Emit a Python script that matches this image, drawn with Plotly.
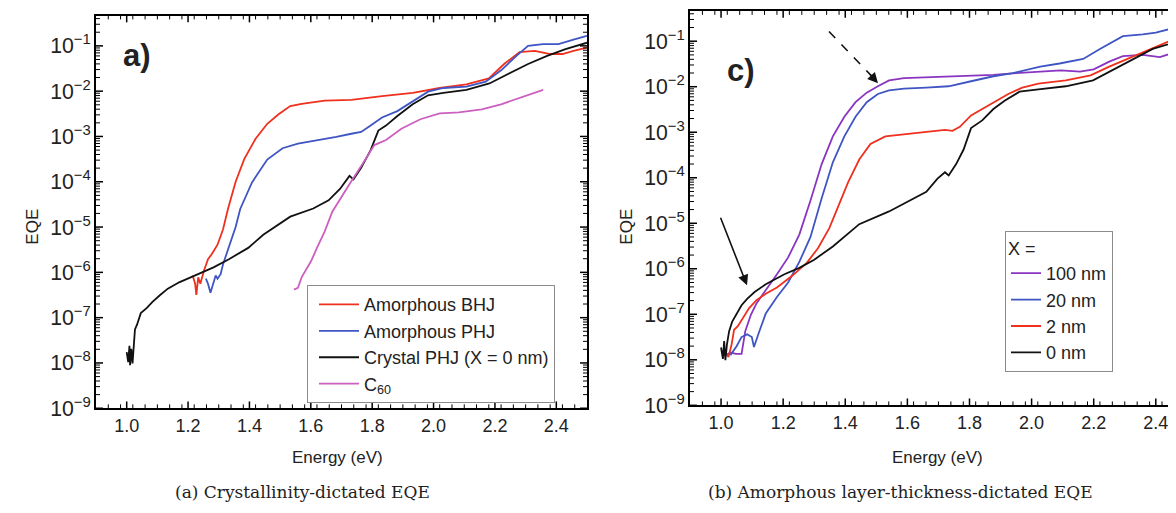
import math
import plotly.graph_objects as go

# ---------------- data (y stored as log10(EQE)) ----------------
# Panel (a)
bhj_x = [1.215, 1.223, 1.227, 1.233, 1.24, 1.252, 1.265, 1.277, 1.296, 1.314, 1.33, 1.355, 1.383, 1.42,
         1.458, 1.495, 1.533, 1.57, 1.645, 1.732, 1.832, 1.932, 2.02, 2.107, 2.18, 2.23, 2.28, 2.33,
         2.38, 2.42, 2.456, 2.5]
bhj_log = [-6.07, -6.25, -6.50, -6.11, -6.25, -5.96, -5.71, -5.6, -5.39, -5.05, -4.6, -4.0, -3.5, -3.05,
           -2.72, -2.51, -2.33, -2.28, -2.21, -2.19, -2.11, -2.04, -1.93, -1.85, -1.72, -1.40, -1.14, -1.11,
           -1.18, -1.18, -1.11, -1.04]

aphj_x = [1.258, 1.265, 1.273, 1.283, 1.29, 1.296, 1.306, 1.314, 1.327, 1.34, 1.355, 1.37, 1.408, 1.458,
          1.508, 1.558, 1.633, 1.683, 1.732, 1.764, 1.795, 1.832, 1.882, 1.932, 1.982, 2.032, 2.107, 2.17,
          2.22, 2.27, 2.308, 2.357, 2.407, 2.456, 2.5]
aphj_log = [-6.14, -6.25, -6.45, -6.25, -6.07, -6.14, -6.04, -5.82, -5.57, -5.32, -5.0, -4.6, -4.02, -3.51,
            -3.26, -3.16, -3.08, -3.01, -2.94, -2.90, -2.76, -2.58, -2.44, -2.22, -2.01, -1.93, -1.90, -1.79,
            -1.54, -1.22, -1.0, -0.96, -0.96, -0.86, -0.78]

cphj_x = [1.0, 1.005, 1.009, 1.011, 1.015, 1.019, 1.024, 1.027, 1.034, 1.046, 1.065, 1.084, 1.109, 1.134,
          1.171, 1.221, 1.283, 1.333, 1.396, 1.445, 1.533, 1.608, 1.658, 1.695, 1.72, 1.726, 1.739, 1.764,
          1.795, 1.82, 1.845, 1.882, 1.932, 1.982, 2.032, 2.107, 2.182, 2.245, 2.308, 2.37, 2.43, 2.5]
cphj_log = [-7.76, -7.98, -7.62, -8.05, -7.69, -8.01, -7.54, -7.26, -7.15, -6.9, -6.79, -6.65, -6.5, -6.36,
            -6.22, -6.07, -5.89, -5.71, -5.46, -5.17, -4.77, -4.59, -4.41, -4.16, -3.91, -3.87, -3.95, -3.69,
            -3.30, -2.87, -2.76, -2.55, -2.29, -2.09, -2.04, -1.97, -1.83, -1.61, -1.40, -1.22, -1.07, -0.93]

c60_x = [1.545, 1.558, 1.57, 1.583, 1.601, 1.62, 1.645, 1.67, 1.708, 1.732, 1.77, 1.807, 1.845, 1.895,
         1.957, 2.02, 2.082, 2.157, 2.22, 2.28, 2.33, 2.357]
c60_log = [-6.38, -6.34, -6.11, -5.96, -5.75, -5.46, -5.1, -4.66, -4.23, -3.99, -3.59, -3.19, -3.08, -2.83,
           -2.62, -2.49, -2.47, -2.40, -2.29, -2.15, -2.04, -1.97]

# Panel (b)
x100_x = [1.012, 1.03, 1.048, 1.066, 1.078, 1.096, 1.114, 1.144, 1.18, 1.216, 1.252, 1.288, 1.324, 1.36,
          1.397, 1.433, 1.469, 1.505, 1.541, 1.589, 1.661, 1.781, 1.877, 1.95, 2.028, 2.094, 2.156, 2.2,
          2.25, 2.294, 2.358, 2.413, 2.464]
x100_log = [-7.91, -7.84, -7.87, -7.87, -7.37, -7.01, -6.76, -6.48, -6.12, -5.75, -5.25, -4.5, -3.7, -3.09,
            -2.66, -2.34, -2.13, -1.99, -1.86, -1.81, -1.79, -1.77, -1.74, -1.70, -1.66, -1.64, -1.67, -1.62,
            -1.45, -1.33, -1.30, -1.35, -1.24]

x20_x = [1.03, 1.05, 1.066, 1.084, 1.099, 1.106, 1.12, 1.144, 1.18, 1.216, 1.252, 1.288, 1.324, 1.36,
         1.397, 1.433, 1.469, 1.505, 1.541, 1.589, 1.661, 1.733, 1.805, 1.877, 1.94, 2.028, 2.09, 2.166,
         2.22, 2.294, 2.358, 2.4, 2.464]
x20_log = [-7.9, -7.7, -7.5, -7.44, -7.5, -7.72, -7.44, -6.98, -6.62, -6.3, -5.85, -5.3, -4.45, -3.66,
           -3.09, -2.66, -2.34, -2.16, -2.08, -2.04, -2.02, -1.99, -1.88, -1.77, -1.70, -1.56, -1.49, -1.39,
           -1.17, -0.89, -0.85, -0.81, -0.70]

x2_x = [1.012, 1.024, 1.034, 1.042, 1.054, 1.063, 1.072, 1.09, 1.114, 1.144, 1.18, 1.228, 1.276, 1.312,
        1.349, 1.373, 1.409, 1.445, 1.481, 1.529, 1.601, 1.685, 1.721, 1.745, 1.769, 1.805, 1.841, 1.877,
        1.925, 1.97, 2.022, 2.11, 2.19, 2.25, 2.326, 2.39, 2.464]
x2_log = [-7.8, -7.94, -7.66, -7.34, -7.26, -7.16, -7.09, -6.87, -6.69, -6.55, -6.41, -6.16, -5.87, -5.55,
          -5.1, -4.7, -4.1, -3.6, -3.26, -3.09, -3.04, -2.99, -2.95, -2.97, -2.88, -2.63, -2.49, -2.34,
          -2.16, -2.02, -1.93, -1.86, -1.75, -1.56, -1.34, -1.15, -0.94]

x0_x = [1.0, 1.006, 1.01, 1.014, 1.019, 1.026, 1.036, 1.048, 1.066, 1.084, 1.108, 1.144, 1.204, 1.252, 1.3,
        1.36, 1.409, 1.445, 1.541, 1.613, 1.661, 1.697, 1.721, 1.733, 1.757, 1.781, 1.805, 1.841, 1.877,
        1.913, 1.961, 2.022, 2.11, 2.198, 2.26, 2.326, 2.39, 2.464]
x0_log = [-7.73, -7.98, -7.59, -8.01, -7.66, -7.37, -7.16, -7.01, -6.8, -6.66, -6.51, -6.34, -6.12, -5.98,
          -5.8, -5.51, -5.23, -5.02, -4.74, -4.49, -4.31, -4.02, -3.88, -3.95, -3.7, -3.38, -2.91, -2.74,
          -2.49, -2.31, -2.11, -2.06, -1.99, -1.86, -1.64, -1.39, -1.17, -1.02]

legend_a = ["Amorphous BHJ", "Amorphous PHJ", "Crystal PHJ (X = 0 nm)", "C<sub>60</sub>"]
legend_b = ["100 nm", "20 nm", "2 nm", "0 nm"]

# ---------------- styling ----------------
RED = "#f0301e"
BLUE = "#3f55c4"
BLACK = "#111111"
MAGENTA = "#cc5fc0"
PURPLE = "#8a35c2"
FONT = "Liberation Sans, Arial, sans-serif"
OFF = 8                      # default page margin of the html body
W, H = 1176 - OFF, 513 - OFF

XR_A, YR_A = [0.9, 2.5], [-9, -0.33]
XR_B, YR_B = [0.9, 2.465], [-9, -0.335]
DOM_A = (96, 587, 15.7, 418)     # left, right, top, bottom in page pixels
DOM_B = (690, 1176, 11, 415)


def px_x(p):
    return (p - OFF) / W


def px_y(p):
    return 1 - (p - OFF) / H


def lin(v):
    return [10 ** a for a in v]


fig = go.Figure()
series_a = [(bhj_x, bhj_log, RED), (aphj_x, aphj_log, BLUE), (cphj_x, cphj_log, BLACK), (c60_x, c60_log, MAGENTA)]
for (xs, ys, c), name in zip(series_a, legend_a):
    fig.add_trace(go.Scatter(x=xs, y=lin(ys), mode="lines", name=name, line=dict(color=c, width=1.8),
                             xaxis="x", yaxis="y", legend="legend"))
series_b = [(x100_x, x100_log, PURPLE), (x20_x, x20_log, BLUE), (x2_x, x2_log, RED), (x0_x, x0_log, BLACK)]
for (xs, ys, c), name in zip(series_b, legend_b):
    fig.add_trace(go.Scatter(x=xs, y=lin(ys), mode="lines", name=name, line=dict(color=c, width=1.8),
                             xaxis="x2", yaxis="y2", legend="legend2"))

common_x = dict(tick0=1.0, dtick=0.2, tickformat=".1f", ticks="", showline=True, linecolor="black",
                linewidth=1.6, showgrid=False, zeroline=False,
                tickfont=dict(family=FONT, size=18, color="#222222"))
common_y = dict(type="log", dtick=1, exponentformat="power", showexponent="all", ticks="", showline=True,
                linecolor="black", linewidth=1.6, showgrid=False, zeroline=False,
                tickfont=dict(family=FONT, size=17, color="#222222"))

fig.update_layout(
    width=W, height=H, margin=dict(l=0, r=0, t=0, b=0), paper_bgcolor="white", plot_bgcolor="white",
    xaxis=dict(domain=[px_x(DOM_A[0]), px_x(DOM_A[1])], anchor="y", range=XR_A, mirror=True, **common_x),
    yaxis=dict(domain=[px_y(DOM_A[3]), px_y(DOM_A[2])], anchor="x", range=YR_A, mirror=True, **common_y),
    xaxis2=dict(domain=[px_x(DOM_B[0]), 1.0], anchor="y2", range=XR_B, mirror=True, **common_x),
    yaxis2=dict(domain=[px_y(DOM_B[3]), px_y(DOM_B[2])], anchor="x2", range=YR_B, mirror=False, **common_y),
    legend=dict(x=px_x(307), y=px_y(292), xanchor="left", yanchor="top", bgcolor="white",
                bordercolor="#8c8c8c", borderwidth=1, font=dict(family=FONT, size=18, color="#222222"),
                itemwidth=40, indentation=6),
    legend2=dict(x=px_x(1005), y=px_y(236), xanchor="left", yanchor="top", bgcolor="white",
                 bordercolor="#8c8c8c", borderwidth=1, font=dict(family=FONT, size=18, color="#222222"),
                 title=dict(text="X =", font=dict(family=FONT, size=18, color="#222222"))),
    showlegend=True,
)

# ---------------- inside tick marks (axis decoration, placed on the axes' own domains) ----------------
shapes = []


def tick_marks(xref, yref, xr, yr, dom, right_side):
    wpx, hpx = dom[1] - dom[0], dom[3] - dom[2]
    major_x = [round(1.0 + 0.2 * k, 2) for k in range(8)]
    minor_x = [round(0.9 + 0.04 * k, 2) for k in range(41)]
    minor_x = [v for v in minor_x if all(abs(v - m) > 1e-6 for m in major_x)]
    for vals, ln, wd in ((major_x, 7, 1.5), (minor_x, 4, 1.0)):
        for v in vals:
            if not (xr[0] < v < xr[1]):
                continue
            for base, sgn in ((0, 1), (1, -1)):
                shapes.append(dict(type="line", xref=xref, yref=yref + " domain", x0=v, x1=v, y0=base,
                                   y1=base + sgn * ln / hpx, line=dict(color="black", width=wd)))
    sides = ((0, 1), (1, -1)) if right_side else ((0, 1),)
    for e in range(-9, 0):
        for k in range(1, 10):
            lv = math.log10(k * 10.0 ** e)
            if not (yr[0] <= lv < yr[1]):
                continue
            f = (lv - yr[0]) / (yr[1] - yr[0])
            ln, wd = (7, 1.5) if k == 1 else (4, 1.0)
            for base, sgn in sides:
                shapes.append(dict(type="line", xref=xref + " domain", yref=yref, x0=base,
                                   x1=base + sgn * ln / wpx, y0=f, y1=f, line=dict(color="black", width=wd)))
    # fix yref for y ticks: use domain fractions
    for s in shapes:
        if s["yref"] == yref:
            s["yref"] = yref + " domain"


tick_marks("x", "y", XR_A, YR_A, DOM_A, True)
tick_marks("x2", "y2", XR_B, YR_B, DOM_B, False)

shapes.append(dict(type="line", xref="paper", yref="paper", x0=px_x(829), y0=px_y(32), x1=px_x(871),
                   y1=px_y(77), line=dict(color="#111111", width=1.6, dash="dash")))
fig.update_layout(shapes=shapes)


def text_ann(text, cx, cy, size, family=FONT, angle=0):
    return dict(text=text, x=px_x(cx), y=px_y(cy), xref="paper", yref="paper", showarrow=False,
                xanchor="center", yanchor="middle", textangle=angle,
                font=dict(family=family, size=size, color="#222222"))


ann = []
ann.append(text_ann("Energy (eV)", 337, 468, 17))
ann.append(text_ann("Energy (eV)", 937, 468, 17))
ann.append(text_ann("EQE", 33, 232, 17, angle=-90))
ann.append(text_ann("EQE", 627, 232, 17, angle=-90))
ann.append(text_ann("<b>a)</b>", 137, 57, 31))
ann.append(text_ann("<b>c)</b>", 741, 72, 31))
ann.append(text_ann("(a) Crystallinity-dictated EQE", 302, 504, 17, family="DejaVu Serif, serif"))
ann.append(text_ann("(b) Amorphous layer-thickness-dictated EQE", 900, 504, 17, family="DejaVu Serif, serif"))
# solid arrow
ann.append(dict(text="", x=px_x(747), y=px_y(292), xref="paper", yref="paper", ax=-27, ay=-69,
                showarrow=True, arrowhead=2, arrowsize=1.3, arrowwidth=1.6, arrowcolor="#111111"))
# dashed arrow head
ann.append(dict(text="", x=px_x(878), y=px_y(85), xref="paper", yref="paper", ax=-9, ay=-10,
                showarrow=True, arrowhead=2, arrowsize=1.3, arrowwidth=1.6, arrowcolor="#111111"))
fig.update_layout(annotations=ann)

fig.write_html("out.html")
